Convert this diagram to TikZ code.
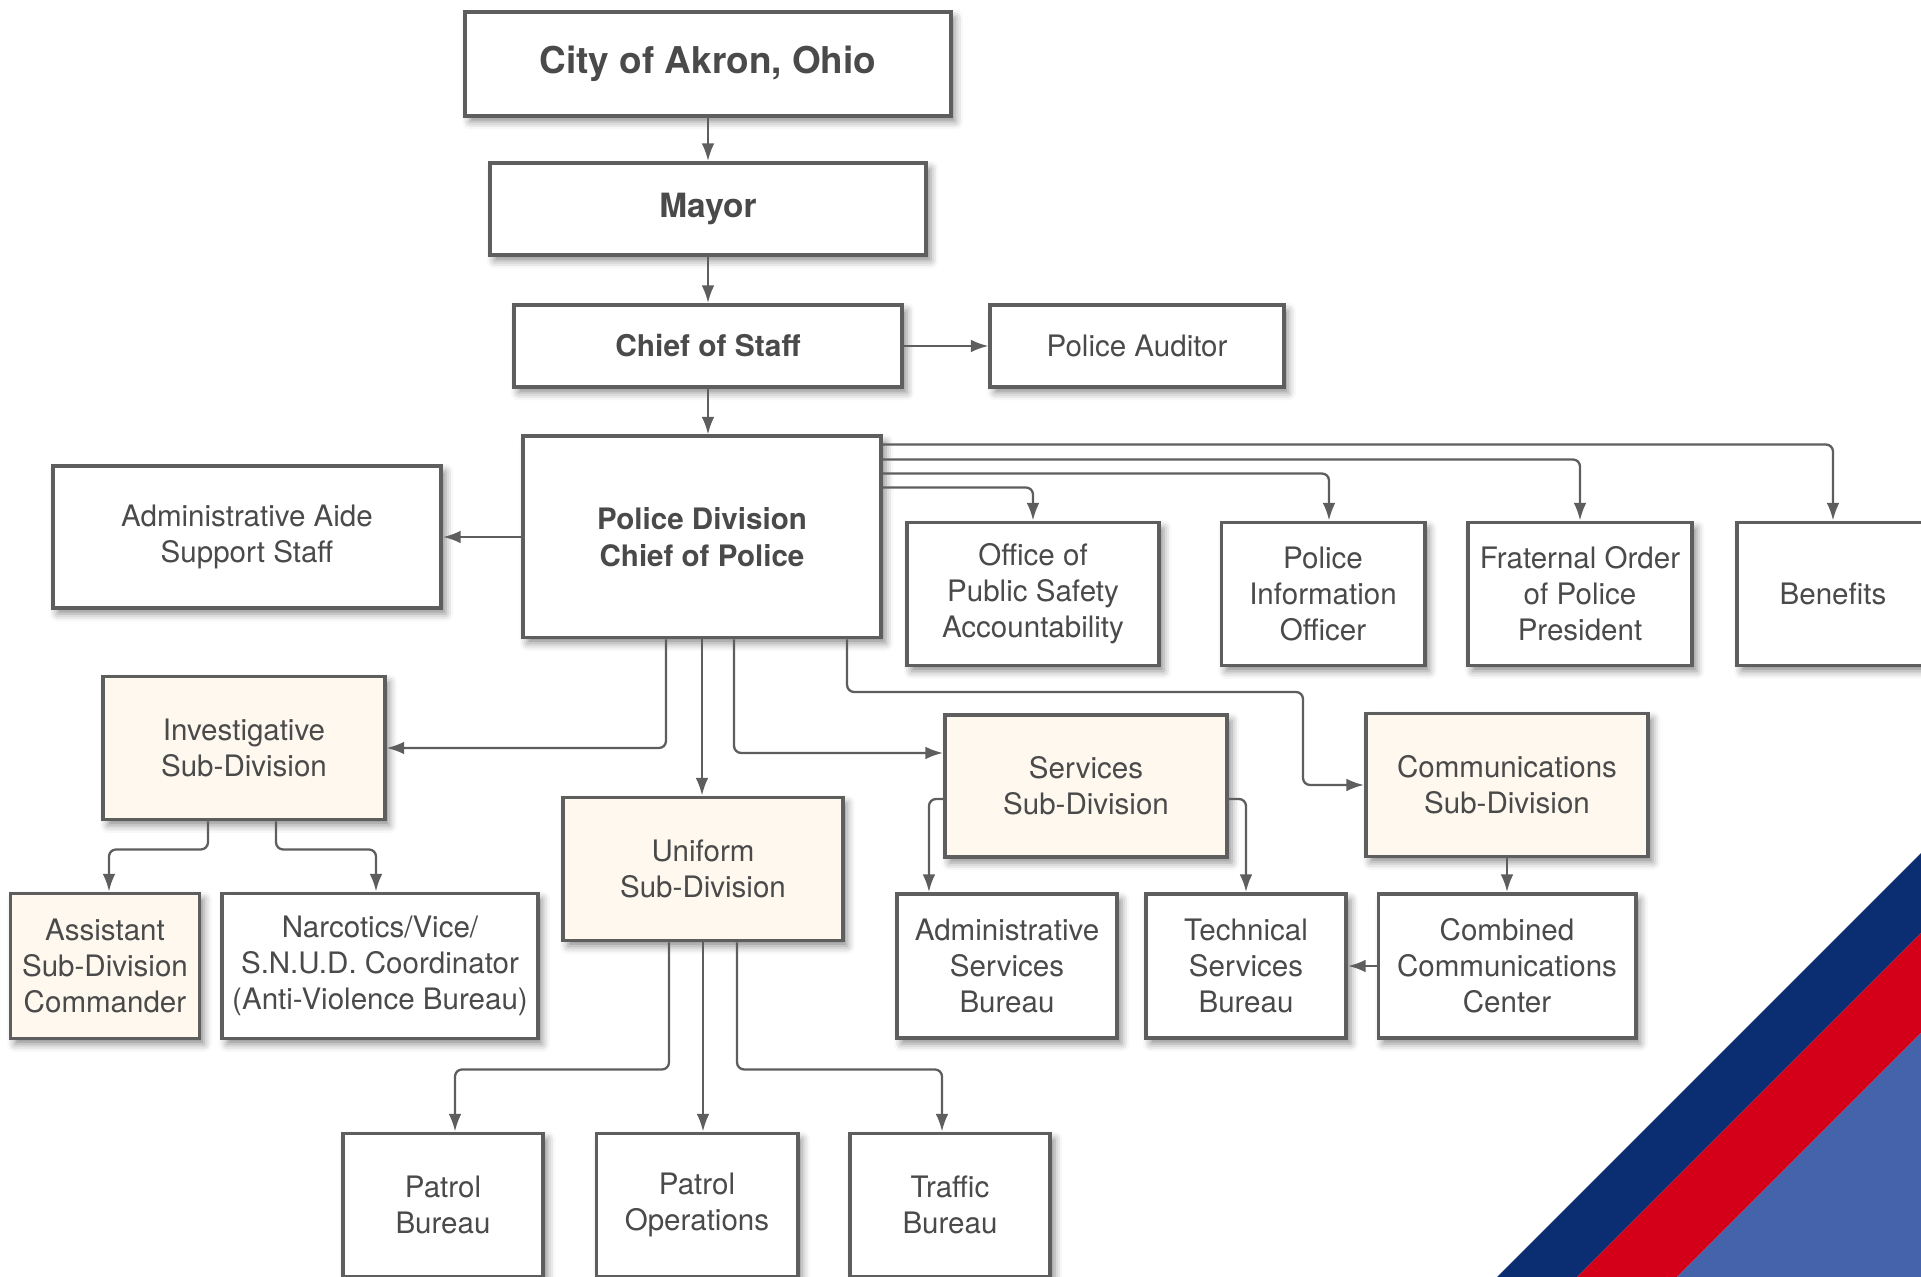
\documentclass[tikz,border=0pt]{standalone}
\usepackage{fontspec}
\setmainfont{TeX Gyre Heros}
\usepackage{xcolor}
\usetikzlibrary{arrows.meta,shadows.blur}

\definecolor{boxline}{HTML}{5E5E5E}
\definecolor{txt}{HTML}{4A4A4A}
\definecolor{beige}{HTML}{FEF8EF}
\definecolor{navy}{HTML}{0B2E73}
\definecolor{flagred}{HTML}{D4001A}
\definecolor{flagblue}{HTML}{4563AA}

\tikzset{
    box/.style={draw=boxline, line width=1.1pt, fill=white, text=txt, align=center,
        inner sep=0pt, minimum height=1.43cm,
        font=\fontsize{8.4}{10.2}\selectfont,
        blur shadow={shadow xshift=1.3pt, shadow yshift=-1.6pt, shadow blur radius=2.2pt, shadow opacity=45}},
    subbox/.style={box, fill=beige},
    conn/.style={draw=boxline, line width=0.65pt, rounded corners=2pt, -{Latex[length=5pt,width=3.6pt]}}
}

\begin{document}
\begin{tikzpicture}[x=0.01cm, y=-0.01cm]
    \useasboundingbox (0,0) rectangle (1921,1277);
    \fill[navy] (1497,1277) -- (1921,853) -- (1921,933) -- (1577,1277) -- cycle;
    \fill[flagred] (1577,1277) -- (1921,933) -- (1921,1033) -- (1677,1277) -- cycle;
    \fill[flagblue] (1677,1277) -- (1921,1033) -- (1921,1277) -- cycle;

    \node[box, minimum width=4.85cm, minimum height=1.04cm, font=\fontsize{10.5}{12}\selectfont\bfseries] (city) at (708,64) {City of Akron, Ohio};
    \node[box, minimum width=4.36cm, minimum height=0.92cm, font=\fontsize{9.5}{11}\selectfont\bfseries] (mayor) at (708,209) {Mayor};
    \node[box, minimum width=3.88cm, minimum height=0.82cm, font=\fontsize{8.5}{10}\selectfont\bfseries] (chief) at (708,346) {Chief of Staff};
    \node[box, minimum width=2.93cm, minimum height=0.82cm] (auditor) at (1137,346) {Police Auditor};
    \node[box, minimum width=3.58cm, minimum height=2.01cm, font=\fontsize{8.4}{10.5}\selectfont\bfseries] (police) at (702,537) {Police Division\\Chief of Police};
    \node[box, minimum width=3.88cm, minimum height=1.42cm] (aide) at (247,537) {Administrative Aide\\Support Staff};

    \node[box, minimum width=2.52cm] (opsa) at (1033,594) {Office of\\Public Safety\\Accountability};
    \node[box, minimum width=2.03cm] (pio) at (1323,594) {Police\\Information\\Officer};
    \node[box, minimum width=2.24cm] (fop) at (1580,594) {Fraternal Order\\of Police\\President};
    \node[box, minimum width=1.92cm] (benefits) at (1833,594) {Benefits};

    \node[subbox, minimum width=2.81cm] (invest) at (244,748) {Investigative\\Sub-Division};
    \node[subbox, minimum width=2.79cm] (uniform) at (703,869) {Uniform\\Sub-Division};
    \node[subbox, minimum width=2.82cm, minimum height=1.42cm] (services) at (1086,786) {Services\\Sub-Division};
    \node[subbox, minimum width=2.82cm] (comms) at (1507,785) {Communications\\Sub-Division};

    \node[subbox, minimum width=1.89cm, minimum height=1.45cm] (assist) at (105,966) {Assistant\\Sub-Division\\Commander};
    \node[box, minimum width=3.15cm, minimum height=1.45cm] (narc) at (380,966) {Narcotics/Vice/\\S.N.U.D. Coordinator\\(Anti-Violence Bureau)};
    \node[box, minimum width=2.20cm, minimum height=1.44cm] (asb) at (1007,966) {Administrative\\Services\\Bureau};
    \node[box, minimum width=2.00cm, minimum height=1.44cm] (tech) at (1246,966) {Technical\\Services\\Bureau};
    \node[box, minimum width=2.57cm, minimum height=1.44cm] (combined) at (1507,966) {Combined\\Communications\\Center};

    \node[box, minimum width=2.00cm] (patrolb) at (443,1205) {Patrol\\Bureau};
    \node[box, minimum width=2.01cm] (patrolo) at (697,1205) {Patrol\\Operations};
    \node[box, minimum width=2.00cm] (traffic) at (950,1205) {Traffic\\Bureau};

    \coordinate (bendc) at (1303,692);

    \draw[conn] (city.south) -- (mayor.north);
    \draw[conn] (mayor.south) -- (chief.north);
    \draw[conn] (chief.east) -- (auditor.west);
    \draw[conn] (chief.south) -- (chief.south |- police.north);
    \draw[conn] (police.west) -- (aide.east);

    \draw[conn] ([yshift=-0.10cm]police.north east) -| (benefits.north);
    \draw[conn] ([yshift=-0.25cm]police.north east) -| (fop.north);
    \draw[conn] ([yshift=-0.39cm]police.north east) -| ([xshift=0.06cm]pio.north);
    \draw[conn] ([yshift=-0.53cm]police.north east) -| (opsa.north);

    \draw[conn] ([xshift=-0.36cm]police.south) |- (invest.east);
    \draw[conn] (police.south) -- (police.south |- uniform.north);
    \draw[conn] ([xshift=0.32cm]police.south) |- ([yshift=0.33cm]services.west);
    \draw[conn] ([xshift=1.45cm]police.south) |- (bendc) |- (comms.west);

    \draw[conn] ([xshift=-0.36cm]invest.south) -- ++(0,28) -| ([xshift=0.04cm]assist.north);
    \draw[conn] ([xshift=0.32cm]invest.south) -- ++(0,28) -| ([xshift=-0.04cm]narc.north);

    \draw[conn] ([yshift=-0.13cm]services.west) -| ([xshift=-0.78cm]asb.north);
    \draw[conn] ([yshift=-0.13cm]services.east) -| (tech.north);
    \draw[conn] (comms.south) -- (combined.north);
    \draw[conn] (combined.west) -- (tech.east);

    \draw[conn] ([xshift=-0.34cm]uniform.south) -- ++(0,127) -| ([xshift=0.12cm]patrolb.north);
    \draw[conn] (uniform.south) -- (uniform.south |- patrolo.north);
    \draw[conn] ([xshift=0.34cm]uniform.south) -- ++(0,127) -| ([xshift=-0.08cm]traffic.north);
\end{tikzpicture}
\end{document}
